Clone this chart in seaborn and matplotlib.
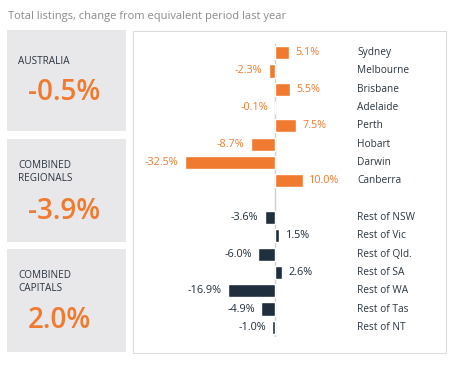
import matplotlib
matplotlib.use("Agg")
import matplotlib.pyplot as plt
from matplotlib.patches import Rectangle
import seaborn as sns
import pandas as pd

sns.set_theme(style="white")
plt.rcParams['font.family'] = ['Open Sans', 'DejaVu Sans']

# ---- data ----
capitals = ["Sydney", "Melbourne", "Brisbane", "Adelaide", "Perth", "Hobart", "Darwin", "Canberra"]
capital_values = [5.1, -2.3, 5.5, -0.1, 7.5, -8.7, -32.5, 10.0]
regions = ["Rest of NSW", "Rest of Vic", "Rest of Qld.", "Rest of SA", "Rest of WA", "Rest of Tas", "Rest of NT"]
region_values = [-3.6, 1.5, -6.0, 2.6, -16.9, -4.9, -1.0]
summary_labels = ["AUSTRALIA", "COMBINED\nREGIONALS", "COMBINED\nCAPITALS"]
summary_values = ["-0.5%", "-3.9%", "2.0%"]
title = "Total listings, change from equivalent period last year"

ORANGE = "#F07A30"
NAVY = "#1F2F3D"
GREY_BOX = "#E8E8EA"

names = capitals + regions
values = capital_values + region_values
groups = ["cap"] * len(capitals) + ["reg"] * len(regions)
positions = list(range(len(capitals))) + [len(capitals) + 1 + i for i in range(len(regions))]
df = pd.DataFrame({"name": names, "value": values, "group": groups, "pos": positions})

W, H = 474, 368
fig = plt.figure(figsize=(W / 100, H / 100), dpi=100)
fig.patch.set_facecolor("white")

def fx(px):
    return px / W

def fy(py):
    return 1 - py / H

# title
fig.text(fx(8), fy(17), title, fontsize=8, color="#8A8A8A", va="center", ha="left")

# left summary boxes
boxes = [(30, 131), (139, 242), (249, 352)]
for (top, bot), lab, val in zip(boxes, summary_labels, summary_values):
    fig.patches.append(Rectangle((fx(7), fy(bot)), fx(126) - fx(7), fy(top) - fy(bot),
                                 transform=fig.transFigure, facecolor=GREY_BOX, edgecolor="none",
                                 zorder=-10))
    nlines = lab.count("\n") + 1
    if nlines == 1:
        fig.text(fx(18), fy(top + 32), lab, fontsize=7.2, color="#2A3540", va="center", ha="left")
        fig.text(fx(28), fy(top + 62), val, fontsize=20, color=ORANGE, weight="semibold",
                 va="center", ha="left")
    else:
        fig.text(fx(18), fy(top + 33), lab, fontsize=7.2, color="#2A3540", va="center", ha="left",
                 linespacing=1.3)
        fig.text(fx(28), fy(top + 72), val, fontsize=20, color=ORANGE, weight="semibold",
                 va="center", ha="left")

# chart box
fig.patches.append(Rectangle((fx(134), fy(354)), fx(447) - fx(134), fy(32) - fy(354),
                             transform=fig.transFigure, facecolor="#E6E6E6", edgecolor="none",
                             zorder=-10))
fig.patches.append(Rectangle((fx(133), fy(353)), fx(446) - fx(133), fy(31) - fy(353),
                             transform=fig.transFigure, facecolor="white", edgecolor="#DCDCDC",
                             linewidth=0.8, zorder=-9))

# bar axes
ax_left, ax_right = 140, 440
ax_top, ax_bot = 43.5, 336.5
ax = fig.add_axes([fx(ax_left), fy(ax_bot), fx(ax_right) - fx(ax_left), fy(ax_top) - fy(ax_bot)])
ax.set_facecolor("none")
ax.set_zorder(5)

ppu = 90 / 32.5  # px per percent
zero_px = 275
xmin = -(zero_px - ax_left) / ppu
xmax = (ax_right - zero_px) / ppu

sns.barplot(data=df, x="value", y="pos", hue="group", orient="h", native_scale=True,
            palette={"cap": ORANGE, "reg": NAVY}, dodge=False, width=0.72,
            legend=False, ax=ax, saturation=1)
ax.set_xlim(xmin, xmax)
ax.set_ylim(len(capitals) + len(regions) + 0.5, -0.5)
ax.axvline(0, color="#D0D0D0", lw=1, zorder=0)
ax.set_axis_off()

off = 6.5 / ppu
label_x = (357 - ax_left) / (ax_right - ax_left)
for _, r in df.iterrows():
    col = ORANGE if r.group == "cap" else NAVY
    wt = "normal" if r.group == "cap" else "medium"
    if r.value >= 0:
        ax.text(r.value + off, r.pos, f"{r.value:.1f}%", color=col, fontsize=7.8,
                ha="left", va="center", weight=wt)
    else:
        ax.text(r.value - off, r.pos, f"{r.value:.1f}%", color=col, fontsize=7.8,
                ha="right", va="center", weight=wt)
    ax.text(label_x, r.pos, r["name"], transform=ax.get_yaxis_transform(), color="#2A3540",
            fontsize=7.3, ha="left", va="center")

fig.savefig("out.png", dpi=100)
